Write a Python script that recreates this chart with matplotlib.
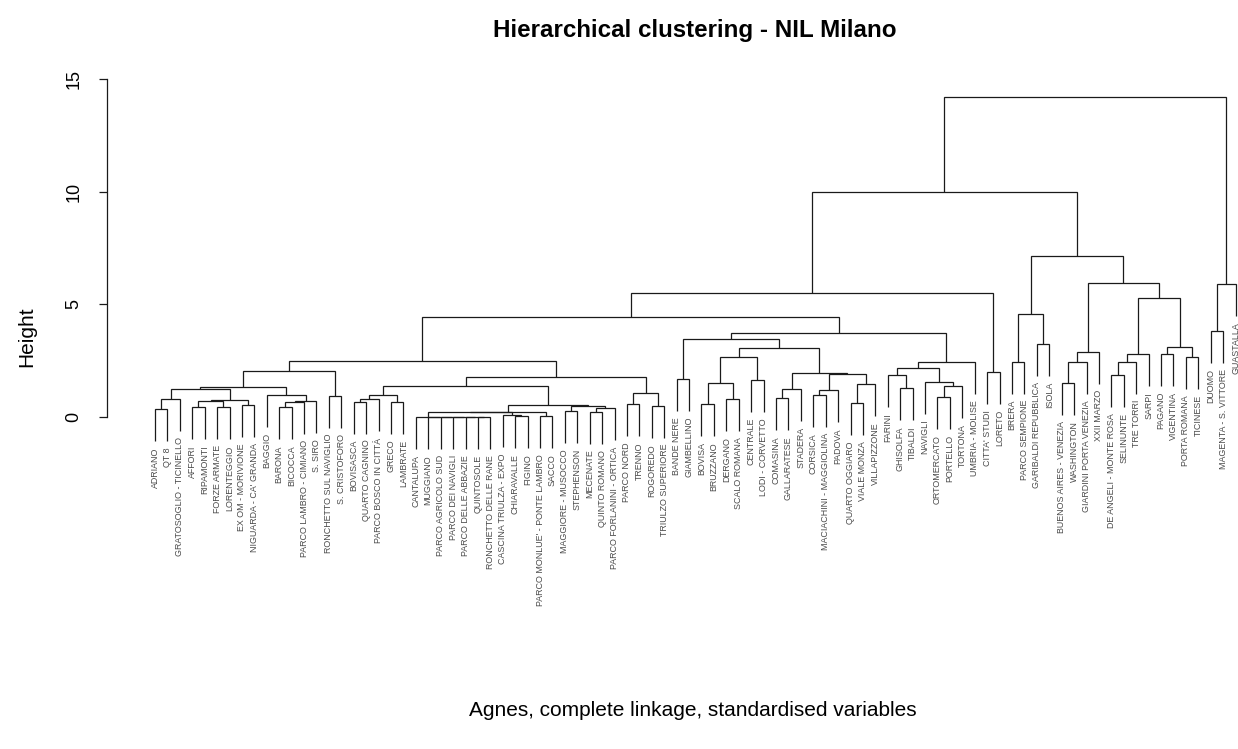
import matplotlib
matplotlib.use("Agg")
import matplotlib.pyplot as plt

plt.rcParams['font.family'] = ['Liberation Sans', 'DejaVu Sans']

# ---- data -------------------------------------------------------------
labels = [
    "ADRIANO", "QT 8", "GRATOSOGLIO - TICINELLO", "AFFORI", "RIPAMONTI",
    "FORZE ARMATE", "LORENTEGGIO", "EX OM - MORIVIONE", "NIGUARDA - CA' GRANDA",
    "BAGGIO", "BARONA", "BICOCCA", "PARCO LAMBRO - CIMIANO", "S. SIRO",
    "RONCHETTO SUL NAVIGLIO", "S. CRISTOFORO", "BOVISASCA", "QUARTO CAGNINO",
    "PARCO BOSCO IN CITTÀ", "GRECO", "LAMBRATE", "CANTALUPA", "MUGGIANO",
    "PARCO AGRICOLO SUD", "PARCO DEI NAVIGLI", "PARCO DELLE ABBAZIE",
    "QUINTOSOLE", "RONCHETTO DELLE RANE", "CASCINA TRIULZA - EXPO",
    "CHIARAVALLE", "FIGINO", "PARCO MONLUE' - PONTE LAMBRO", "SACCO",
    "MAGGIORE - MUSOCCO", "STEPHENSON", "MECENATE", "QUINTO ROMANO",
    "PARCO FORLANINI - ORTICA", "PARCO NORD", "TRENNO", "ROGOREDO",
    "TRIULZO SUPERIORE", "BANDE NERE", "GIAMBELLINO", "BOVISA", "BRUZZANO",
    "DERGANO", "SCALO ROMANA", "CENTRALE", "LODI - CORVETTO", "COMASINA",
    "GALLARATESE", "STADERA", "CORSICA", "MACIACHINI - MAGGIOLINA", "PADOVA",
    "QUARTO OGGIARO", "VIALE MONZA", "VILLAPIZZONE", "FARINI", "GHISOLFA",
    "TIBALDI", "NAVIGLI", "ORTOMERCATO", "PORTELLO", "TORTONA",
    "UMBRIA - MOLISE", "CITTA' STUDI", "LORETO", "BRERA", "PARCO SEMPIONE",
    "GARIBALDI REPUBBLICA", "ISOLA", "BUENOS AIRES - VENEZIA", "WASHINGTON",
    "GIARDINI PORTA VENEZIA", "XXII MARZO", "DE ANGELI - MONTE ROSA",
    "SELINUNTE", "TRE TORRI", "SARPI", "PAGANO", "VIGENTINA", "PORTA ROMANA",
    "TICINESE", "DUOMO", "MAGENTA - S. VITTORE", "GUASTALLA",
]

# R-style merge table: negative = leaf (1-based index in labels), positive = earlier merge
merge_left = [
    -1, 1, -4, -6, 3, -8, 5, 2, -11, 9, 10, -10, 8, -15, 13,
    -17, 16, -20, 17,
    -27, -26, -25, -24, -23, -22, -30, -29, 25, -32, 28,
    -34, -36, 32, 31, 30, 19, -39, -41, 37, 36, 15,
    -43, -45, -47, 43, -49, 45, -51, 48, -54, 50, -57, 52, 51, 49, 47, 42,
    -61, -60, -64, 60, -63, 59, 63, 57, 41, -68, 66,
    -70, -72, 69, -74, 72, 73, -78, 75, 76, -82, -84, 78, 77, 74, 71, 68,
    -86, 85, 84,
]
merge_right = [
    -2, -3, -5, -7, 4, -9, 6, 7, -12, -13, -14, 11, 12, -16, 14,
    -18, -19, -21, 18,
    -28, 20, 21, 22, 23, 24, -31, 26, 27, -33, 29,
    -35, -37, -38, 33, 34, 35, -40, -42, 38, 39, 40,
    -44, -46, -48, 44, -50, 46, -52, -53, -55, -56, -58, -59, 53, 54, 55, 56,
    -62, 58, -65, -66, 61, 62, -67, 64, 65, -69, 67,
    -71, -73, 70, -75, -76, -77, -79, -80, -81, -83, -85, 79, 80, 81, 82, 83,
    -87, -88, 86,
]
merge_height = [
    0.34, 0.78, 0.43, 0.43, 0.72, 0.53, 0.77, 1.23, 0.43, 0.68, 0.72, 0.98, 1.32, 0.94, 2.04,
    0.68, 0.78, 0.68, 0.98,
    0.0, 0.0, 0.0, 0.0, 0.0, 0.0, 0.03, 0.08, 0.20, 0.03, 0.24,
    0.26, 0.24, 0.38, 0.50, 0.53, 1.37, 0.56, 0.49, 1.05, 1.78, 2.49,
    1.69, 0.58, 0.80, 1.52, 1.64, 2.68, 0.83, 1.23, 0.98, 1.20, 0.62, 1.45, 1.91, 1.95, 3.08, 3.45,
    1.28, 1.86, 0.90, 1.38, 1.57, 2.17, 2.43, 3.74, 4.42, 2.00, 5.50,
    2.45, 3.24, 4.57, 1.50, 2.44, 2.88, 1.86, 2.44, 2.80, 2.80, 2.66, 3.10, 5.27, 5.96, 7.14, 10.0,
    3.83, 5.90, 14.22,
]

y_ticks = [0, 5, 10, 15]
title = "Hierarchical clustering - NIL Milano"
sub_title = "Agnes, complete linkage, standardised variables"
y_title = "Height"

# ---- layout -----------------------------------------------------------
W, H = 1238, 749
fig = plt.figure(figsize=(W / 100, H / 100), dpi=100)
top_px, bot_px, left_px, right_px = 60, 680, 107, 1238
ax = fig.add_axes([left_px / W, 1 - bot_px / H, (right_px - left_px) / W, (bot_px - top_px) / H])

ppu = 22.53          # pixels per height unit
y0_px = 417          # pixel row of height 0
ax.set_ylim((y0_px - bot_px) / ppu, (y0_px - top_px) / ppu)
x_first, x_step = 155, 12.42
ax.set_xlim(1 + (left_px - x_first) / x_step, 1 + (right_px - x_first) / x_step)

hang = 0.1 * max(merge_height)

# leaf order via tree traversal
def leaves_of(node):
    if node < 0:
        return [-node]
    return leaves_of(merge_left[node - 1]) + leaves_of(merge_right[node - 1])

order = leaves_of(len(merge_height))
leaf_pos = {leaf: i + 1 for i, leaf in enumerate(order)}

node_x = {}
line_kw = dict(color="#1a1a1a", lw=0.9, solid_capstyle="butt", solid_joinstyle="miter")
label_gap = 6 / ppu

for k in range(1, len(merge_height) + 1):
    h = merge_height[k - 1]
    xs, bottoms = [], []
    for child in (merge_left[k - 1], merge_right[k - 1]):
        if child < 0:
            x = leaf_pos[-child]
            bottom = h - hang
            ax.text(x, bottom - label_gap, labels[-child - 1], rotation=90,
                    ha="center", va="top", fontsize=6.4, color="#4a4a4a")
        else:
            x = node_x[child]
            bottom = merge_height[child - 1]
        xs.append(x)
        bottoms.append(bottom)
    ax.plot([xs[0], xs[0], xs[1], xs[1]], [bottoms[0], h, h, bottoms[1]], **line_kw)
    node_x[k] = (xs[0] + xs[1]) / 2

# axes styling (R-like)
for s in ("top", "right", "bottom"):
    ax.spines[s].set_visible(False)
ax.spines["left"].set_bounds(0, 15)
ax.spines["left"].set_linewidth(0.9)
ax.spines["left"].set_color("#1a1a1a")
ax.set_xticks([])
ax.set_yticks(y_ticks)
ax.set_yticklabels([str(t) for t in y_ticks])
ax.tick_params(axis="y", length=5.5, width=0.9, pad=12, labelsize=13, color="#1a1a1a")
for lab in ax.get_yticklabels():
    lab.set_rotation(90)
    lab.set_va("center")
    lab.set_ha("right")

fig.text(695 / W, 1 - 30 / H, title, ha="center", va="center",
         fontsize=17.4, fontweight="bold")
fig.text(693 / W, 1 - 711 / H, sub_title, ha="center", va="center", fontsize=15)
fig.text(27 / W, 1 - 337 / H, y_title, ha="center", va="center", rotation=90, fontsize=15)

fig.savefig("out.png", dpi=100)
